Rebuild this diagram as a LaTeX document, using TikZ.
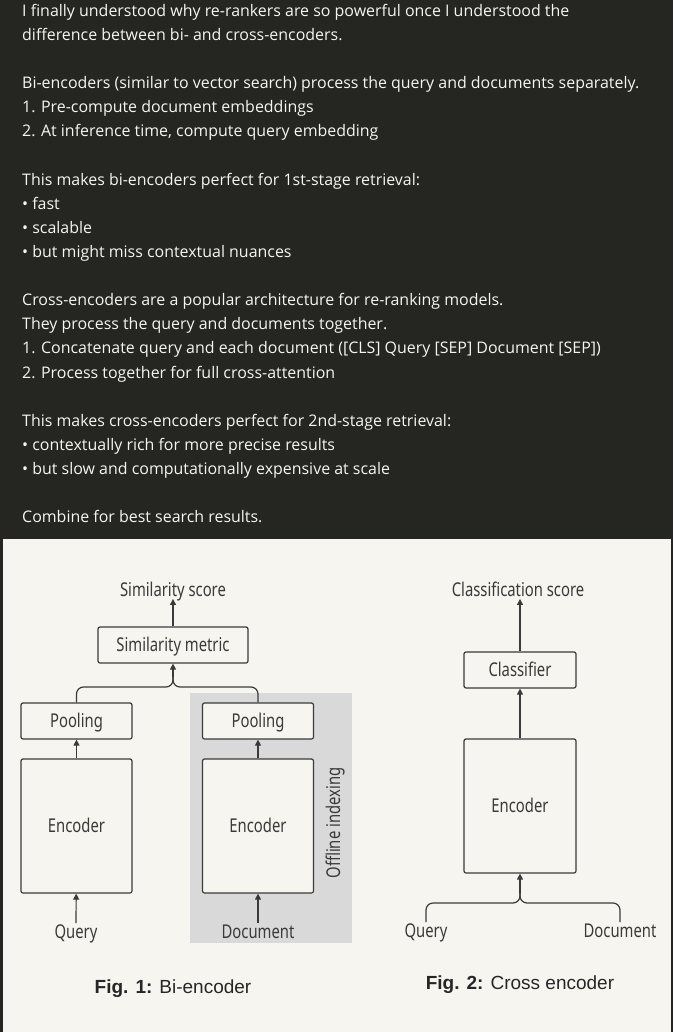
\documentclass[tikz,border=0pt]{standalone}
\usepackage{fontspec}
\usepackage{tikz}
\usetikzlibrary{arrows.meta, positioning}
\setmainfont{Open Sans}
\newfontfamily\diafont[FakeStretch=0.78]{Noto Sans}
\newfontfamily\capfont{Liberation Sans}
\definecolor{darkbg}{RGB}{37,37,33}
\definecolor{paper}{RGB}{247,245,240}
\definecolor{panel}{RGB}{217,217,217}
\definecolor{ink}{RGB}{58,58,58}
\definecolor{posttext}{RGB}{245,245,245}

\begin{document}
\begin{tikzpicture}[x=1pt, y=-1pt,
    post/.style={anchor=base west, inner sep=0, text=posttext, font=\fontsize{15.95}{18}\selectfont},
    block/.style={draw=ink, line width=1.2pt, rounded corners=2pt, fill=paper, inner sep=0,
      text height=13.5pt, text depth=0pt, font=\diafont\fontsize{19}{22}\selectfont, text=ink},
    lbl/.style={inner sep=2pt, text height=13.5pt, text depth=0pt,
      font=\diafont\fontsize{19}{22}\selectfont, text=ink},
    arr/.style={draw=ink, line width=1.2pt, -{Triangle[length=6pt,width=6pt]}},
    brace/.style={draw=ink, line width=1.2pt, rounded corners=7pt},
    figcap/.style={font=\capfont\fontsize{19}{22}\selectfont, text=black!85}]
  \fill[darkbg] (0,0) rectangle (673,1032);
  \fill[paper] (2.5,539) rectangle (670.5,1032);
  \useasboundingbox (0,0) rectangle (673,1032);

  % post text
  \foreach \idx/\txt in {0/{I finally understood why re-rankers are so powerful once I understood the},
      1/{difference between bi- and cross-encoders.},
      3/{Bi-encoders (similar to vector search) process the query and documents separately.},
      4/{1. Pre-compute document embeddings},
      5/{2. At inference time, compute query embedding},
      7/{This makes bi-encoders perfect for 1st-stage retrieval:},
      8/{• fast},
      9/{• scalable},
      10/{• but might miss contextual nuances},
      12/{Cross-encoders are a popular architecture for re-ranking models.},
      13/{They process the query and documents together.},
      14/{1. Concatenate query and each document ([CLS] Query [SEP] Document [SEP])},
      15/{2. Process together for full cross-attention},
      17/{This makes cross-encoders perfect for 2nd-stage retrieval:},
      18/{• contextually rich for more precise results},
      19/{• but slow and computationally expensive at scale},
      21/{Combine for best search results.}}
    \node[post] (post\idx) at (22,16.5+24.1*\idx) {\txt};

  % bi-encoder
  \fill[panel] (190,693) rectangle (352,943);
  \node[block, minimum width=111, minimum height=134] (enc1) at (76.5,826) {Encoder};
  \node[block, minimum width=111, minimum height=36] (pool1) at (76.5,721) {Pooling};
  \node[block, minimum width=111, minimum height=134] (enc2) at (258,826) {Encoder};
  \node[block, minimum width=111, minimum height=36] (pool2) at (258,721) {Pooling};
  \node[block, minimum width=150, minimum height=36] (sim) at (173,645) {Similarity metric};
  \node[lbl] (simscore) at (173,590) {Similarity score};
  \node[lbl] (query1) at (76,932) {Query};
  \node[lbl] (doc1) at (258,932) {Document};
  \node[lbl, rotate=90] (offline) at (334,823) {Offline indexing};
  \coordinate (bimerge) at (173,677);
  \draw[arr] (query1) -- (enc1);
  \draw[arr] (doc1) -- (enc2);
  \draw[arr] (enc1) -- (pool1);
  \draw[arr] (enc2) -- (pool2);
  \draw[brace] (pool1.north) |- ([yshift=-10pt]bimerge) -- (bimerge);
  \draw[brace] (pool2.north) |- ([yshift=-10pt]bimerge) -- (bimerge);
  \draw[arr] (bimerge) -- (sim);
  \draw[arr] (sim) -- (simscore);

  % cross encoder
  \node[block, minimum width=112, minimum height=134] (enc3) at (520,806) {Encoder};
  \node[block, minimum width=112, minimum height=36] (cls) at (520,670) {Classifier};
  \node[lbl] (clsscore) at (518,590) {Classification score};
  \node[lbl] (query2) at (426,931) {Query};
  \node[lbl] (doc2) at (620,931) {Document};
  \coordinate (crossmerge) at (520,893);
  \draw[brace] (query2.north) |- ([yshift=-10pt]crossmerge) -- (crossmerge);
  \draw[brace] (doc2.north) |- ([yshift=-10pt]crossmerge) -- (crossmerge);
  \draw[arr] (crossmerge) -- (enc3);
  \draw[arr] (enc3) -- (cls);
  \draw[arr] (cls) -- (cls.north |- clsscore.south);

  \node[figcap] (fig1) at (173,989) {\textbf{Fig. 1:} Bi-encoder};
  \node[figcap] (fig2) at (520,985) {\textbf{Fig. 2:} Cross encoder};
\end{tikzpicture}
\end{document}
